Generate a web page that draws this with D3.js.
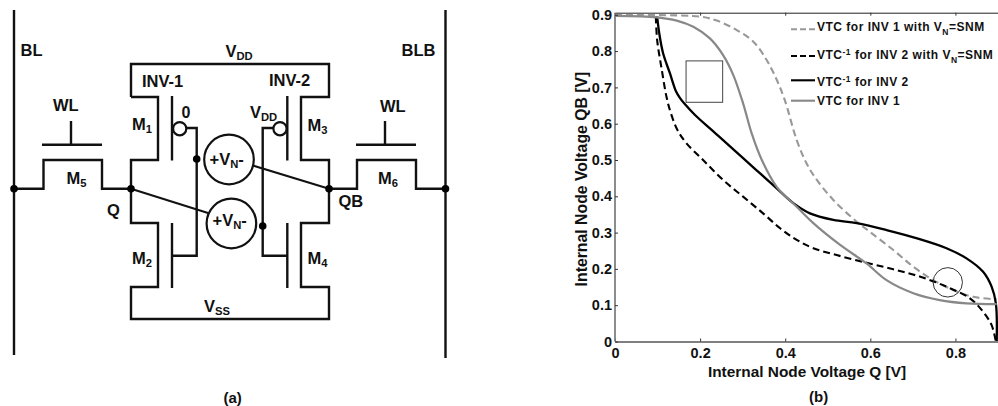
<!DOCTYPE html>
<html>
<head>
<meta charset="utf-8">
<script src="https://cdnjs.cloudflare.com/ajax/libs/d3/7.8.5/d3.min.js"></script>
<style>
  html, body { margin: 0; padding: 0; background: #fff; overflow: hidden; }
  text { font-family: "Liberation Sans", Arial, sans-serif; font-weight: bold; fill: #111; }
</style>
</head>
<body>
<div id="chart"></div>
<script>
// values, [Q, QB] in volts
const vtcInv1 = [[0,.897],[.098,.893],[.145,.884],[.184,.867],[.223,.835],[.254,.789],[.278,.734],[.301,.656],[.321,.574],[.345,.5],[.38,.426],[.427,.371],[.466,.326],[.529,.266],[.591,.215],[.638,.169],[.701,.133],[.763,.114],[.826,.105],[.897,.103]];
const vtcInv2 = [[.099,.895],[.104,.849],[.113,.794],[.129,.739],[.143,.69],[.152,.672],[.164,.654],[.188,.624],[.223,.587],[.254,.555],[.301,.505],[.341,.463],[.38,.422],[.419,.381],[.458,.353],[.513,.335],[.568,.326],[.638,.307],[.716,.282],[.779,.257],[.826,.229],[.865,.192],[.885,.151],[.895,.105],[.897,0]];
const vtcInv1Snm = [[0,.899],[.2,.895],[.239,.884],[.286,.858],[.325,.826],[.356,.776],[.38,.721],[.399,.665],[.427,.555],[.45,.491],[.47,.452],[.513,.39],[.568,.33],[.599,.302],[.654,.252],[.701,.206],[.748,.169],[.795,.142],[.842,.123],[.897,.116]];
const vtcInv2Snm = [[.096,.895],[.099,.831],[.11,.748],[.121,.674],[.131,.63],[.147,.582],[.168,.546],[.207,.5],[.254,.445],[.301,.399],[.348,.353],[.388,.312],[.427,.28],[.466,.257],[.521,.238],[.591,.217],[.654,.199],[.716,.179],[.779,.151],[.834,.119],[.865,.082],[.885,.045],[.895,0]];
const xTicks = [0, .2, .4, .6, .8];
const yTicks = [0, .1, .2, .3, .4, .5, .6, .7, .8, .9];

const width = 998, height = 406;
const svg = d3.select('#chart').append('svg').attr('width', width).attr('height', height);

// text with optional sub / superscript parts
function label(parent, x, y, parts, size) {
  const t = parent.append('text').attr('x', x).attr('y', y).attr('font-size', size);
  let shift = 0;
  parts.forEach(p => {
    const small = p.sub || p.sup;
    const want = p.sub ? p.sub : p.sup ? -p.sup : 0;
    t.append('tspan')
      .attr('dy', want - shift)
      .attr('font-size', small ? (p.size || size * 0.68) : size)
      .text(p.t);
    shift = want;
  });
  return t;
}

// ---------- panel (a), the 6T cell ----------
const wires = [
  [[14,10],[14,355]],
  [[445.5,10],[445.5,358]],
  // left inverter and VDD / VSS rails
  [[131,97],[131,64],[329,64],[329,97],[301,97],[301,160],[329,160],[329,223],[301,223],[301,287],[329,287],[329,319],[131,319],[131,287],[158,287],[158,223],[131,223],[131,160],[158,160],[158,97],[131,97]],
  // access transistors
  [[14,188.7],[43.5,188.7],[43.5,160],[102,160],[102,188.7],[131,188.7]],
  [[329,188.7],[357,188.7],[357,160],[416,160],[416,188.7],[445.5,188.7]],
  [[42,144.7],[102,144.7]], [[71,121],[71,144.7]],
  [[356,144.7],[416,144.7]], [[385,121],[385,144.7]],
  // gates
  [[172,96],[172,160.5]], [[172,223],[172,288]],
  [[287.3,96],[287.3,160.5]], [[287.3,223],[287.3,288]],
  [[186,128],[196.7,128],[196.7,255.7],[172,255.7]],
  [[273,128],[262.7,128],[262.7,255.7],[287.3,255.7]]
];
const thinWires = [
  [[131,188.7],[208,213]],
  [[329,188.7],[253.5,165.7]]
];
const bubbles = [[179.7,128.7],[280,128.7]];
const sources = [[229,159.5],[231.4,223.5]];
const nodes = [[14,188.7],[131,188.7],[329,188.7],[445.5,188.7],[196.7,159],[262.7,226]];

const cell = svg.append('g');
const path = d3.line();
cell.selectAll('path.wire').data(wires).join('path')
  .attr('class', 'wire').attr('d', path).attr('fill', 'none')
  .attr('stroke', '#111').attr('stroke-width', 2.4).attr('stroke-linejoin', 'miter');
cell.selectAll('path.thin').data(thinWires).join('path')
  .attr('class', 'thin').attr('d', path).attr('fill', 'none')
  .attr('stroke', '#111').attr('stroke-width', 2);
cell.selectAll('circle.bubble').data(bubbles).join('circle')
  .attr('class', 'bubble').attr('cx', d => d[0]).attr('cy', d => d[1]).attr('r', 6.6)
  .attr('fill', '#fff').attr('stroke', '#111').attr('stroke-width', 2.2);
cell.selectAll('circle.source').data(sources).join('circle')
  .attr('class', 'source').attr('cx', d => d[0]).attr('cy', d => d[1]).attr('r', 24.8)
  .attr('fill', '#fff').attr('stroke', '#111').attr('stroke-width', 2.2);
cell.selectAll('circle.node').data(nodes).join('circle')
  .attr('class', 'node').attr('cx', d => d[0]).attr('cy', d => d[1]).attr('r', 3.8)
  .attr('fill', '#000');

label(cell, 20.5, 56, [{t:'BL'}], 16.5);
label(cell, 401.5, 56, [{t:'BLB'}], 16.5);
label(cell, 53, 111, [{t:'WL'}], 16.5);
label(cell, 380, 112, [{t:'WL'}], 16.5);
label(cell, 225.5, 56.5, [{t:'V'},{t:'DD',sub:3}], 16.5);
label(cell, 142, 87, [{t:'INV-1'}], 16.5);
label(cell, 269, 86, [{t:'INV-2'}], 16.5);
label(cell, 132, 130, [{t:'M'},{t:'1',sub:3}], 16.5);
label(cell, 132, 264, [{t:'M'},{t:'2',sub:3}], 16.5);
label(cell, 307.5, 130.5, [{t:'M'},{t:'3',sub:3}], 16.5);
label(cell, 307.5, 264, [{t:'M'},{t:'4',sub:3}], 16.5);
label(cell, 66.5, 183.5, [{t:'M'},{t:'5',sub:3}], 16.5);
label(cell, 378, 184, [{t:'M'},{t:'6',sub:3}], 16.5);
label(cell, 181.5, 118, [{t:'0'}], 16);
label(cell, 250, 118, [{t:'V'},{t:'DD',sub:3}], 16.5);
label(cell, 107, 216, [{t:'Q'}], 16.5);
label(cell, 338.5, 207, [{t:'QB'}], 16.5);
label(cell, 204, 311.5, [{t:'V'},{t:'SS',sub:3}], 16.5);
label(cell, 209.5, 165, [{t:'+V'},{t:'N',sub:3},{t:'-'}], 16.5);
label(cell, 212.5, 226, [{t:'+V'},{t:'N',sub:3},{t:'-'}], 16.5);
label(cell, 223.5, 403, [{t:'(a)'}], 15);

// ---------- panel (b), butterfly curves ----------
const x = d3.scaleLinear().domain([0, .9]).range([615, 998]);
const y = d3.scaleLinear().domain([0, .9]).range([341.5, 14.8]);

const plot = svg.append('g');
const curve = d3.line().x(d => x(d[0])).y(d => y(d[1])).curve(d3.curveCatmullRom.alpha(.5));

const series = [
  { values: vtcInv1Snm, color: '#999', w: 2.1, dash: '7 4' },
  { values: vtcInv2Snm, color: '#000', w: 2.1, dash: '7 4' },
  { values: vtcInv2, color: '#000', w: 2.3, dash: null },
  { values: vtcInv1, color: '#888', w: 2.2, dash: null }
];
plot.selectAll('path.curve').data(series).join('path')
  .attr('class', 'curve').attr('d', d => curve(d.values)).attr('fill', 'none')
  .attr('stroke', d => d.color).attr('stroke-width', d => d.w)
  .attr('stroke-dasharray', d => d.dash);

// square and circle marking the noise margin
plot.append('rect')
  .attr('x', x(.167)).attr('y', y(.773))
  .attr('width', x(.253) - x(.167)).attr('height', y(.659) - y(.773))
  .attr('fill', 'none').attr('stroke', '#444').attr('stroke-width', 1);
plot.append('ellipse')
  .attr('cx', x(.782)).attr('cy', y(.163))
  .attr('rx', x(.0345) - x(0)).attr('ry', y(0) - y(.0405))
  .attr('fill', 'none').attr('stroke', '#333').attr('stroke-width', 1);

const fmt = d => d === 0 ? '0' : d3.format('.1f')(d);
const gx = plot.append('g').attr('transform', `translate(0,${y(0)})`)
  .call(d3.axisBottom(x).tickValues(xTicks).tickFormat(fmt).tickSizeInner(-3).tickSizeOuter(0).tickPadding(6));
const gy = plot.append('g').attr('transform', `translate(${x(0)},0)`)
  .call(d3.axisLeft(y).tickValues(yTicks).tickFormat(fmt).tickSizeInner(-3).tickSizeOuter(0).tickPadding(3));
const gt = plot.append('g').attr('transform', `translate(0,12.7)`)
  .call(d3.axisTop(x).tickValues(xTicks.slice(1)).tickFormat('').tickSizeInner(-3).tickSizeOuter(0));
gx.select('.domain').attr('stroke', '#808080').attr('stroke-width', 1.8);
gy.select('.domain').attr('stroke', '#808080').attr('stroke-width', 1.8).attr('d', `M0,${y(0)}V12.7`);
gt.select('.domain').attr('stroke', '#222').attr('stroke-width', 1);
plot.selectAll('.tick line').attr('stroke', '#333');
plot.selectAll('.tick text').attr('font-size', 14.5).attr('font-family', '"Liberation Sans", Arial, sans-serif');

plot.append('text').attr('text-anchor', 'middle').attr('x', 807).attr('y', 376.5).attr('font-size', 15.4)
  .text('Internal Node Voltage Q [V]');
plot.append('text').attr('text-anchor', 'middle')
  .attr('transform', 'translate(586.5,179) rotate(-90)').attr('font-size', 15.8)
  .text('Internal Node Voltage QB [V]');
label(plot, 809, 402, [{t:'(b)'}], 15);

// legend
const legendRows = [
  { color: '#999', dash: '6 3', ly: 29.3, by: 31, parts: [{t:'VTC for INV 1 with V'},{t:'N',sub:4,size:8.5},{t:'=SNM'}] },
  { color: '#000', dash: '6 3', ly: 56, by: 59, parts: [{t:'VTC'},{t:'-1',sup:4,size:8.5},{t:' for INV 2 with V'},{t:'N',sub:4,size:8.5},{t:'=SNM'}] },
  { color: '#000', dash: null, ly: 80.3, by: 86, parts: [{t:'VTC'},{t:'-1',sup:4,size:8.5},{t:' for INV 2'}] },
  { color: '#888', dash: null, ly: 100.7, by: 105, parts: [{t:'VTC for INV 1'}] }
];
const legend = svg.append('g');
legendRows.forEach(r => {
  legend.append('line').attr('x1', 791).attr('x2', 815).attr('y1', r.ly).attr('y2', r.ly)
    .attr('stroke', r.color).attr('stroke-width', 2.1).attr('stroke-dasharray', r.dash);
  label(legend, 817, r.by, r.parts, 12).attr('letter-spacing', 0.5);
});
</script>
</body>
</html>
